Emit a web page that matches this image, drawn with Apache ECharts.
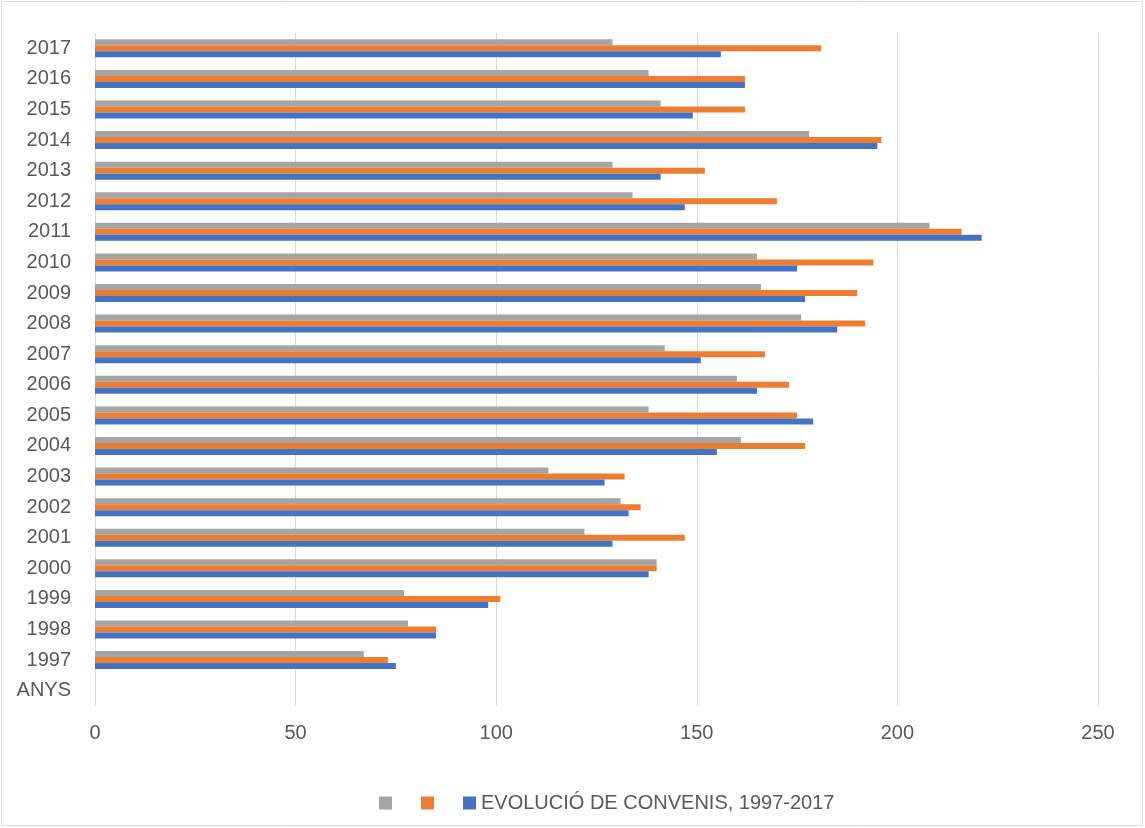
<!DOCTYPE html>
<html><head><meta charset="utf-8">
<script src="https://cdn.jsdelivr.net/npm/echarts@6/dist/echarts.min.js"></script>
<style>html,body{margin:0;padding:0;background:#fff}#c{width:1145px;height:828px}</style>
</head><body><div id="c"></div>
<script>
const categories = ['ANYS','1997','1998','1999','2000','2001','2002','2003','2004','2005','2006','2007','2008','2009','2010','2011','2012','2013','2014','2015','2016','2017'];
const blueValues   = [null,75,85,98,138,129,133,127,155,179,165,151,185,177,175,221,147,141,195,149,162,156];
const orangeValues = [null,73,85,101,140,147,136,132,177,175,173,167,192,190,194,216,170,152,196,162,162,181];
const grayValues   = [null,67,78,77,140,122,131,113,161,138,160,142,176,166,165,208,134,129,178,141,138,129];
const xTicks = [0,50,100,150,200,250];
const blueName = 'EVOLUCIÓ DE CONVENIS, 1997-2017';

const chart = echarts.init(document.getElementById('c'));
const font = 'Liberation Sans';
chart.setOption({
  animation:false,
  textStyle:{fontFamily:font},
  graphic:[{type:'rect',shape:{x:1.5,y:1.5,width:1141,height:824},style:{fill:'none',stroke:'#d9d9d9',lineWidth:1}}],
  grid:{left:95,right:47,top:33,bottom:122},
  xAxis:{type:'value',min:xTicks[0],max:xTicks[xTicks.length-1],interval:50,
    axisLine:{show:false},axisTick:{show:false},
    splitLine:{lineStyle:{color:'#d9d9d9',width:1}},
    axisLabel:{color:'#595959',fontSize:20,fontFamily:font,margin:17}},
  yAxis:{type:'category',data:categories,
    axisLine:{show:false},axisTick:{show:false},
    axisLabel:{color:'#595959',fontSize:20,fontFamily:font,margin:24}},
  legend:{left:374,top:788,itemWidth:13,itemHeight:13,itemGap:29,icon:'rect',
    data:['gris','taronja',blueName],
    formatter:function(n){return n===blueName?n:'';},
    textStyle:{color:'#595959',fontSize:20,fontFamily:font}},
  series:[
    {name:'gris',type:'bar',data:grayValues,barWidth:6,barGap:'0%',itemStyle:{color:'#A5A5A5'}},
    {name:'taronja',type:'bar',data:orangeValues,barWidth:6,barGap:'0%',itemStyle:{color:'#ED7D31'}},
    {name:blueName,type:'bar',data:blueValues,barWidth:6,barGap:'0%',itemStyle:{color:'#4472C4'}}
  ]
});
</script></body></html>
